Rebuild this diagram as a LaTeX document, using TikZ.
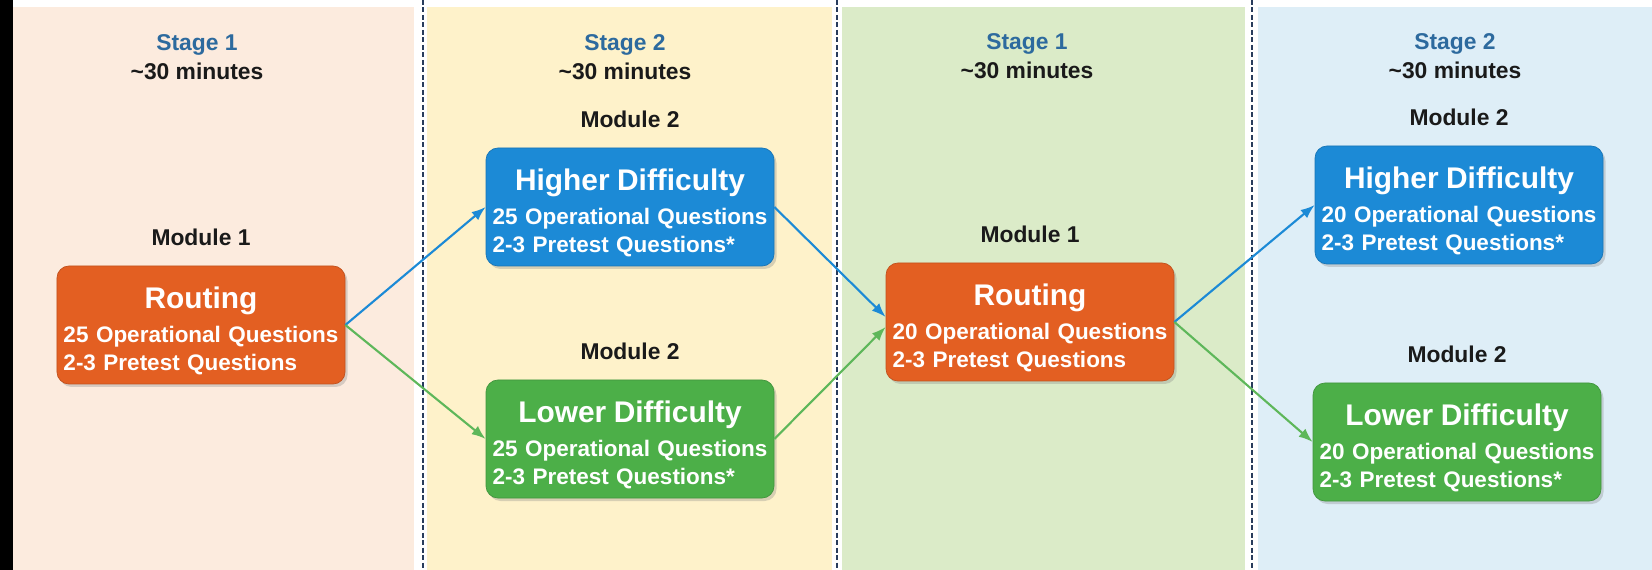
\documentclass[tikz,border=0pt]{standalone}
\usepackage{fontspec}
\setmainfont{Liberation Sans}
\usetikzlibrary{positioning,arrows.meta,shadows}
\definecolor{peach}{RGB}{252,235,222}
\definecolor{cream}{RGB}{254,242,202}
\definecolor{sage}{RGB}{219,235,200}
\definecolor{sky}{RGB}{222,238,247}
\definecolor{routecol}{RGB}{227,95,34}
\definecolor{highcol}{RGB}{28,138,214}
\definecolor{lowcol}{RGB}{76,175,72}
\definecolor{stagecol}{RGB}{45,106,158}
\definecolor{sepcol}{RGB}{40,60,92}
\definecolor{textcol}{RGB}{26,26,26}
\tikzset{
  modbox/.style={fill=#1, draw=#1!85!black, line width=0.4pt, rounded corners=2.4mm,
    minimum width=57.6mm, minimum height=23.6mm, text width=55mm, align=left,
    text=white, inner sep=0pt,
    drop shadow={opacity=0.3, shadow xshift=0.5mm, shadow yshift=-0.6mm},
    font=\fontsize{12.8}{16}\selectfont\bfseries},
  stagehead/.style={align=center, text=textcol, font=\fontsize{13}{16.5}\selectfont\bfseries},
  modlabel/.style={inner sep=0pt, text=textcol, font=\fontsize{13}{16}\selectfont\bfseries},
  sep/.style={sepcol, line width=0.9pt, dash pattern=on 1mm off 0.5mm},
  flow/.style={#1, line width=1.2pt, -{Latex[length=8pt,width=6pt]}}
}
\newcommand\boxtext[3]{\makebox[55mm][c]{\rule{0pt}{19pt}\fontsize{17}{20}\selectfont #1}\\[3.4pt]\mbox{#2}\\\mbox{#3}}
\begin{document}
\begin{tikzpicture}[x=0.2mm,y=-0.2mm]
\useasboundingbox (0,0) rectangle (1652,570);
\fill[white] (0,0) rectangle (1652,570);
\fill[black] (0,0) rectangle (13,570);
\fill[peach] (13,7) rectangle (414,570);
\fill[cream] (427,7) rectangle (832,570);
\fill[sage] (842,7) rectangle (1245,570);
\fill[sky] (1258,7) rectangle (1652,570);
\foreach \x in {423,837,1252} \draw[sep] (\x,0) -- (\x,570);

% stage headings
\node[stagehead] (s1) at (197,57) {\textcolor{stagecol}{Stage 1}\\\textasciitilde30 minutes};
\node[stagehead] (s2) at (625,57) {\textcolor{stagecol}{Stage 2}\\\textasciitilde30 minutes};
\node[stagehead] (s3) at (1027,56) {\textcolor{stagecol}{Stage 1}\\\textasciitilde30 minutes};
\node[stagehead] (s4) at (1455,56) {\textcolor{stagecol}{Stage 2}\\\textasciitilde30 minutes};

% modules
\node[modbox=routecol] (r1) at (201,325) {\boxtext{Routing}{25 Operational Questions}{2-3 Pretest Questions}};
\node[modbox=highcol] (h1) at (630,207) {\boxtext{Higher Difficulty}{25 Operational Questions}{2-3 Pretest Questions*}};
\node[modbox=lowcol] (l1) at (630,439) {\boxtext{Lower Difficulty}{25 Operational Questions}{2-3 Pretest Questions*}};
\node[modbox=routecol] (r2) at (1030,322) {\boxtext{Routing}{20 Operational Questions}{2-3 Pretest Questions}};
\node[modbox=highcol] (h2) at (1459,205) {\boxtext{Higher Difficulty}{20 Operational Questions}{2-3 Pretest Questions*}};
\node[modbox=lowcol] (l2) at (1457,442) {\boxtext{Lower Difficulty}{20 Operational Questions}{2-3 Pretest Questions*}};

\foreach \b/\t in {r1/Module 1, h1/Module 2, l1/Module 2, r2/Module 1, h2/Module 2, l2/Module 2}
  \node[modlabel, above=4mm of \b] (\b-lab) {\t};

% routing arrows
\draw[flow=highcol] (r1.east) -- (h1.west);
\draw[flow=lowcol!90!white] (r1.east) -- (l1.west);
\draw[flow=highcol] (h1.east) -- ([yshift=1mm]r2.west);
\draw[flow=lowcol!90!white] (l1.east) -- ([yshift=-1mm]r2.west);
\draw[flow=highcol] (r2.east) -- (h2.west);
\draw[flow=lowcol!90!white] (r2.east) -- (l2.west);
\end{tikzpicture}
\end{document}
